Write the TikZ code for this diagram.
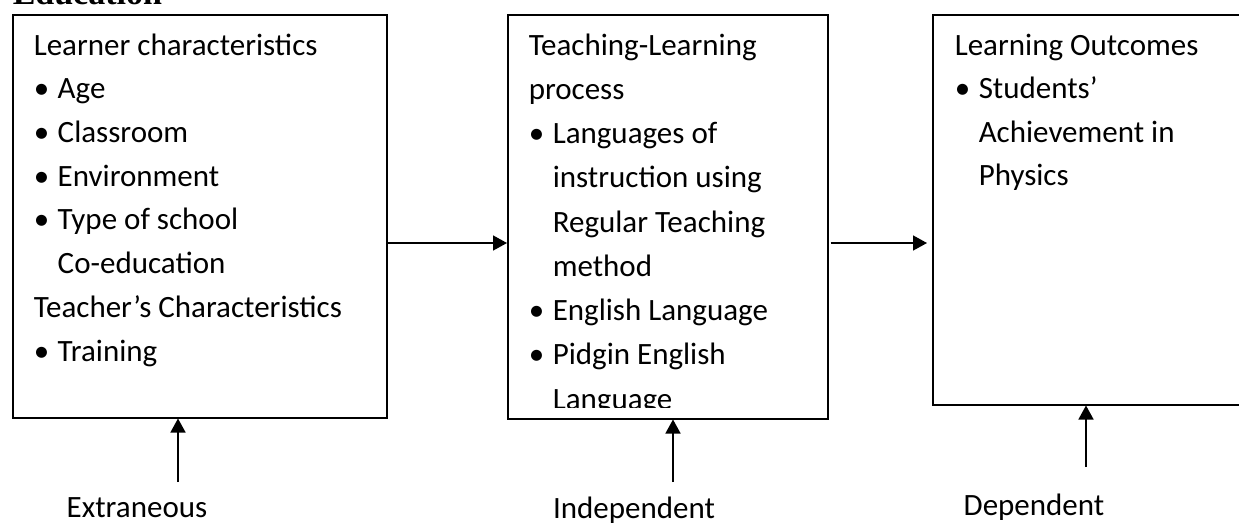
\documentclass[tikz,border=0pt]{standalone}
\usepackage{fontspec}
\setmainfont{Carlito}
\newfontfamily\headfont{Liberation Serif}
\usetikzlibrary{positioning, arrows.meta}
\newcommand{\bul}{\makebox[24pt][l]{\textbullet}}
\newcommand{\hang}{\hspace*{24pt}}

\begin{document}
\begin{tikzpicture}[x=1pt, y=-1pt, >={Triangle[length=14pt, width=15pt]}, line width=1.5pt,
      box/.style={draw, rectangle, inner sep=0pt, anchor=north west},
      txt/.style={anchor=base west, align=left, inner sep=0pt, font=\fontsize{31}{#1}\selectfont},
      lbl/.style={anchor=base, inner sep=0pt, font=\fontsize{31}{37}\selectfont}]
  \useasboundingbox (0,0) rectangle (1239,523);
  \node[anchor=base west, inner sep=0pt, font=\headfont\bfseries\fontsize{34}{40}\selectfont] (title) at (12,4) {Education};
  % the three boxes
  \node[box, minimum width=374pt, minimum height=403pt] (learner) at (12,14) {};
  \node[box, minimum width=320pt, minimum height=404pt] (process) at (507,14) {};
  \node[box, minimum width=328pt, minimum height=390pt] (outcome) at (932,14) {};
  % text blocks sit on the baseline of their last line
  \node[txt=43.7] (learnerText) at (33,361) {Learner characteristics\\ \bul Age\\ \bul Classroom\\ \bul Environment\\
    \bul Type of school\\ \hang Co-education\\ Teacher’s Characteristics\\ \bul Training};
  \begin{scope}
    \clip (507,14) rectangle (827,407);
    \node[txt=44.25] (processText) at (528,409) {Teaching-Learning\\ process\\ \bul Languages of\\ \hang instruction using\\
      \hang Regular Teaching\\ \hang method\\ \bul English Language\\ \bul Pidgin English\\ \hang Language};
  \end{scope}
  \node[txt=43.5] (outcomeText) at (954,185.5) {Learning Outcomes\\ \bul Students’\\ \hang Achievement in\\ \hang Physics};
  % arrows between the boxes
  \coordinate (row) at (0,243);
  \draw[->] (learner.east |- row) -- (process.west |- row);
  \draw[->] ([xshift=2pt]process.east |- row) -- ([xshift=-5pt]outcome.west |- row);
  % variables below
  \node[lbl] (extLabel) at (137,517) {Extraneous};
  \node[lbl] (indLabel) at (634,518) {Independent};
  \node[lbl] (depLabel) at (1034,515) {Dependent};
  \coordinate (extTail) at (178,482);
  \coordinate (indTail) at (673,482);
  \coordinate (depTail) at (1086,467);
  \draw[->] (extTail) -- (extTail |- learner.south);
  \draw[->] (indTail) -- (indTail |- process.south);
  \draw[->] (depTail) -- (depTail |- outcome.south);
\end{tikzpicture}
\end{document}
